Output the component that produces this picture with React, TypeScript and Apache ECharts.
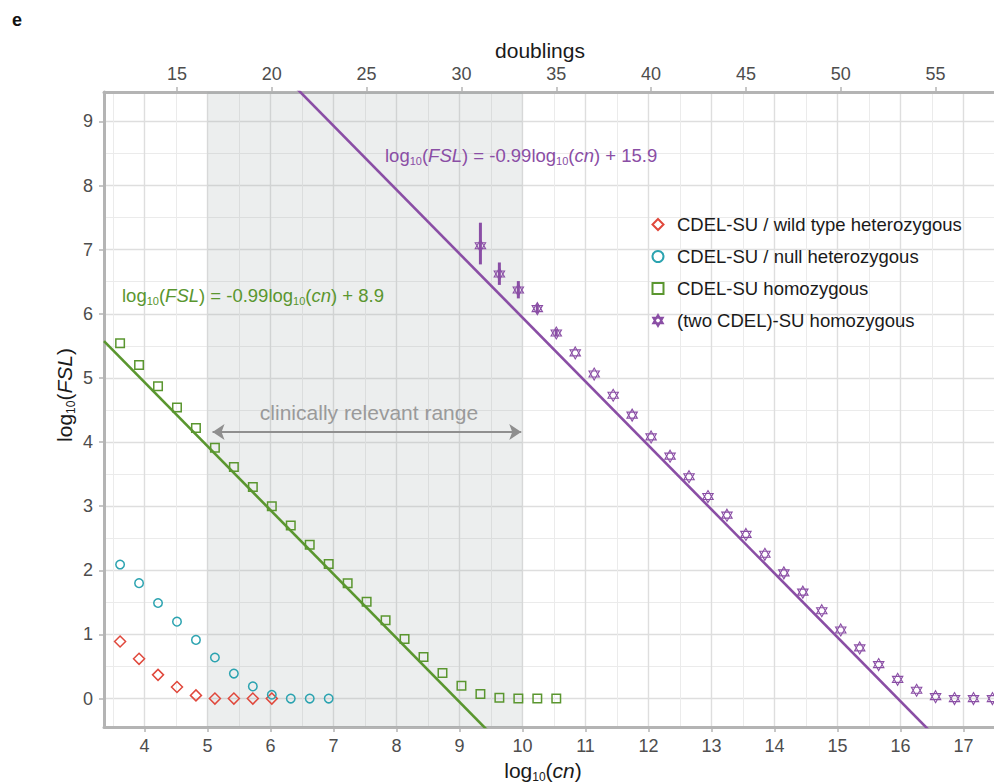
import React, { useEffect, useRef } from 'react';
import * as echarts from 'echarts';

const FONT = "'Liberation Sans', Arial, Helvetica, sans-serif";
const LOG10_2 = Math.log10(2);

// axis extents: log10(cn) (bottom) and log10(FSL) (left)
const X_MIN = 3.357;
const X_MAX = 17.516;
const Y_MIN = -0.443;
const Y_MAX = 9.458;

// tick labels
const xTicks = [4, 5, 6, 7, 8, 9, 10, 11, 12, 13, 14, 15, 16, 17];
const xMinorTicks = [3.5, 4.5, 5.5, 6.5, 7.5, 8.5, 9.5, 10.5, 11.5, 12.5, 13.5, 14.5, 15.5, 16.5, 17.5];
const yTicks = [0, 1, 2, 3, 4, 5, 6, 7, 8, 9];
const yMinorTicks = [0.5, 1.5, 2.5, 3.5, 4.5, 5.5, 6.5, 7.5, 8.5];
const doublingTicks = [15, 20, 25, 30, 35, 40, 45, 50, 55];

// series names
const NAME_WT = 'CDEL-SU / wild type heterozygous';
const NAME_NULL = 'CDEL-SU / null heterozygous';
const NAME_HOMO = 'CDEL-SU homozygous';
const NAME_TWO = '(two CDEL)-SU homozygous';

// data: x measured in doublings, y = log10(FSL)
const wildTypeDoublings = [12, 13, 14, 15, 16, 17, 18, 19, 20];
const wildTypeValues = [0.89, 0.62, 0.37, 0.18, 0.05, 0, 0, 0, 0];

const nullDoublings = [12, 13, 14, 15, 16, 17, 18, 19, 20, 21, 22, 23];
const nullValues = [2.09, 1.8, 1.49, 1.2, 0.915, 0.64, 0.39, 0.19, 0.06, 0, 0, 0];

const homoDoublings = [12, 13, 14, 15, 16, 17, 18, 19, 20, 21, 22, 23, 24, 25, 26, 27, 28, 29, 30, 31, 32, 33, 34, 35];
const homoValues = [5.54, 5.2, 4.87, 4.54, 4.22, 3.91, 3.61, 3.3, 3.0, 2.7, 2.4, 2.1, 1.8, 1.51, 1.22, 0.93, 0.65, 0.4, 0.2, 0.07, 0.015, 0, 0, 0];

const twoDoublings = [31, 32, 33, 34, 35, 36, 37, 38, 39, 40, 41, 42, 43, 44, 45, 46, 47, 48, 49, 50, 51, 52, 53, 54, 55, 56, 57, 58];
const twoValues = [7.06, 6.62, 6.37, 6.08, 5.7, 5.39, 5.06, 4.73, 4.42, 4.08, 3.78, 3.46, 3.15, 2.86, 2.56, 2.25, 1.96, 1.66, 1.37, 1.07, 0.79, 0.53, 0.3, 0.13, 0.03, 0, 0, 0];

const twoErrDoublings = [31, 32, 33, 34, 35];
const twoErrLow = [6.77, 6.45, 6.24, 6.01, 5.65];
const twoErrHigh = [7.42, 6.8, 6.51, 6.15, 5.76];

// fitted lines as drawn in the figure
const homoFit = { slope: -0.997, intercept: 8.92 };
const twoFit = { slope: -0.997, intercept: 15.91 };

// clinically relevant range (log10(cn))
const clinicalRange = [5, 10];
const arrowRange = [5.08, 9.98];
const arrowLevel = 4.156;

const RED = '#e0483c';
const CYAN = '#2ba3b0';
const GREEN = '#5a962f';
const PURPLE = '#8a4ea5';
const AXIS_GRAY = '#b4b4b4';
const LABEL_GRAY = '#4d4d4d';

const HEXAGRAM = 'path://M0,-10L8.66,5L-8.66,5Z M0,10L8.66,-5L-8.66,-5Z';

function rich(color: string, size: number, sub: number) {
  return {
    n: { fontFamily: FONT, fontSize: size, fill: color, lineHeight: size + 4 },
    i: { fontFamily: FONT, fontSize: size, fill: color, fontStyle: 'italic', lineHeight: size + 4 },
    s: { fontFamily: FONT, fontSize: sub, fill: color, lineHeight: sub, verticalAlign: 'bottom' },
  };
}

function scatter(name: string, doublings: number[], values: number[], symbol: string, size: number, color: string, bw: number) {
  return {
    type: 'scatter',
    name,
    xAxisIndex: 0,
    yAxisIndex: 0,
    data: doublings.map((d, i) => [d * LOG10_2, values[i]]),
    symbol,
    symbolSize: size,
    symbolKeepAspect: true,
    itemStyle: { color: 'rgba(255,255,255,0)', borderColor: color, borderWidth: bw, opacity: 1 },
    z: 4,
    silent: true,
  };
}

function fitLine(name: string, fit: { slope: number; intercept: number }, color: string) {
  return {
    type: 'line',
    name,
    xAxisIndex: 0,
    yAxisIndex: 0,
    data: [X_MIN, X_MAX].map((x) => [x, fit.slope * x + fit.intercept]),
    symbol: 'none',
    clip: true,
    lineStyle: { color, width: 2.6 },
    z: 3,
    silent: true,
  };
}

export default function App() {
  const ref = useRef<HTMLDivElement>(null);
  useEffect(() => {
    if (!ref.current) return;
    const chart = echarts.init(ref.current, null, { renderer: 'svg' });
    const labelStyle = { color: LABEL_GRAY, fontSize: 18, fontFamily: FONT };
    const option: any = {
      animation: false,
      backgroundColor: '#ffffff',
      grid: { left: 104, right: -2, top: 92, bottom: 56, containLabel: false, outerBoundsMode: 'none' },
      xAxis: [
        {
          type: 'value', position: 'bottom', min: X_MIN, max: X_MAX,
          axisLine: { show: true, onZero: false, lineStyle: { color: AXIS_GRAY, width: 3 } },
          axisTick: { show: true, length: 5, customValues: xTicks, lineStyle: { color: AXIS_GRAY, width: 1.5 } },
          axisLabel: { customValues: xTicks, margin: 10, ...labelStyle },
          splitLine: { show: true, lineStyle: { color: '#dedede', width: 1.4 } },
        },
        {
          type: 'value', position: 'bottom', min: X_MIN, max: X_MAX,
          axisLine: { show: false, onZero: false },
          axisTick: { show: false, customValues: xMinorTicks },
          axisLabel: { show: false, customValues: xMinorTicks },
          splitLine: { show: true, lineStyle: { color: '#ebebeb', width: 1 } },
        },
        {
          type: 'value', position: 'top', min: X_MIN / LOG10_2, max: X_MAX / LOG10_2,
          axisLine: { show: true, onZero: false, lineStyle: { color: AXIS_GRAY, width: 3 } },
          axisTick: { show: true, length: 5, customValues: doublingTicks, lineStyle: { color: AXIS_GRAY, width: 1.5 } },
          axisLabel: { customValues: doublingTicks, margin: 9, ...labelStyle },
          splitLine: { show: false },
        },
      ],
      yAxis: [
        {
          type: 'value', position: 'left', min: Y_MIN, max: Y_MAX,
          axisLine: { show: true, onZero: false, lineStyle: { color: AXIS_GRAY, width: 3 } },
          axisTick: { show: true, length: 5, customValues: yTicks, lineStyle: { color: AXIS_GRAY, width: 1.5 } },
          axisLabel: { customValues: yTicks, margin: 11, ...labelStyle },
          splitLine: { show: true, lineStyle: { color: '#dedede', width: 1.4 } },
        },
        {
          type: 'value', position: 'left', min: Y_MIN, max: Y_MAX,
          axisLine: { show: false, onZero: false },
          axisTick: { show: false, customValues: yMinorTicks },
          axisLabel: { show: false, customValues: yMinorTicks },
          splitLine: { show: true, lineStyle: { color: '#ebebeb', width: 1 } },
        },
      ],
      legend: {
        orient: 'vertical', left: 651.5, top: 215, padding: 0, itemGap: 13,
        itemWidth: 11, itemHeight: 11, selectedMode: false, symbolKeepAspect: true,
        data: [NAME_WT, NAME_NULL, NAME_HOMO, NAME_TWO],
        textStyle: { fontSize: 18.5, color: '#1a1a1a', fontFamily: FONT, padding: [0, 0, 0, 8.5] },
      },
      series: [
        {
          type: 'scatter', name: 'clinical', xAxisIndex: 0, yAxisIndex: 0, data: [], silent: true, z: 1,
          markArea: {
            silent: true,
            itemStyle: { color: 'rgba(150,158,158,0.18)' },
            data: [[{ xAxis: clinicalRange[0] }, { xAxis: clinicalRange[1] }]],
          },
          markLine: {
            silent: true,
            symbol: ['arrow', 'arrow'],
            symbolSize: [12, 12],
            label: { show: false },
            lineStyle: { color: '#8f8f8f', width: 2, type: 'solid' },
            data: [[{ coord: [arrowRange[0], arrowLevel] }, { coord: [arrowRange[1], arrowLevel] }]],
          },
        },
        fitLine('homoFit', homoFit, GREEN),
        fitLine('twoFit', twoFit, PURPLE),
        {
          type: 'custom', name: 'twoErr', xAxisIndex: 0, yAxisIndex: 0, silent: true, z: 3,
          data: twoErrDoublings.map((d, i) => [d * LOG10_2, twoErrLow[i], twoErrHigh[i]]),
          encode: { x: 0, y: [1, 2] },
          renderItem: (params: any, api: any) => {
            const p1 = api.coord([api.value(0), api.value(1)]);
            const p2 = api.coord([api.value(0), api.value(2)]);
            return {
              type: 'line',
              shape: { x1: p1[0], y1: p1[1], x2: p2[0], y2: p2[1] },
              style: { stroke: PURPLE, lineWidth: 3 },
            };
          },
        },
        scatter(NAME_WT, wildTypeDoublings, wildTypeValues, 'diamond', 11, RED, 1.5),
        scatter(NAME_NULL, nullDoublings, nullValues, 'circle', 8.5, CYAN, 1.5),
        scatter(NAME_HOMO, homoDoublings, homoValues, 'rect', 8.5, GREEN, 1.5),
        scatter(NAME_TWO, twoDoublings, twoValues, HEXAGRAM, 12, PURPLE, 1.1),
      ],
      graphic: [
        {
          type: 'text', x: 17, y: 20,
          style: { text: 'e', fontFamily: FONT, fontSize: 18, fontWeight: 'bold', fill: '#111', align: 'center', verticalAlign: 'middle' },
        },
        {
          type: 'text', x: 385, y: 155, z: 5,
          style: {
            text: '{n|log}{s|10}{n|(}{i|FSL}{n|) = -0.99log}{s|10}{n|(}{i|cn}{n|) + 15.9}',
            rich: rich(PURPLE, 18.5, 11), fill: PURPLE, align: 'left', verticalAlign: 'middle',
          },
        },
        {
          type: 'text', x: 122, y: 295, z: 5,
          style: {
            text: '{n|log}{s|10}{n|(}{i|FSL}{n|) = -0.99log}{s|10}{n|(}{i|cn}{n|) + 8.9}',
            rich: rich(GREEN, 18.5, 11), fill: GREEN, align: 'left', verticalAlign: 'middle',
          },
        },
        {
          type: 'text', x: 369, y: 412, z: 5,
          style: { text: 'clinically relevant range', fontFamily: FONT, fontSize: 21, fill: '#9a9a9a', align: 'center', verticalAlign: 'middle' },
        },
        {
          type: 'text', x: 540, y: 50,
          style: { text: 'doublings', fontFamily: FONT, fontSize: 21, fill: '#1a1a1a', align: 'center', verticalAlign: 'middle' },
        },
        {
          type: 'text', x: 543, y: 770,
          style: {
            text: '{n|log}{s|10}{n|(}{i|cn}{n|)}',
            rich: rich('#1a1a1a', 21, 12), fill: '#1a1a1a', align: 'center', verticalAlign: 'middle',
          },
        },
        {
          type: 'text', x: 64, y: 395, rotation: Math.PI / 2,
          style: {
            text: '{n|log}{s|10}{n|(}{i|FSL}{n|)}',
            rich: rich('#1a1a1a', 21, 12), fill: '#1a1a1a', align: 'center', verticalAlign: 'middle',
          },
        },
      ],
    };
    chart.setOption(option);
    return () => chart.dispose();
  }, []);
  return (
    <div
      ref={ref}
      style={{ position: 'fixed', left: 0, top: 0, width: 994, height: 783, background: '#ffffff' }}
    />
  );
}
